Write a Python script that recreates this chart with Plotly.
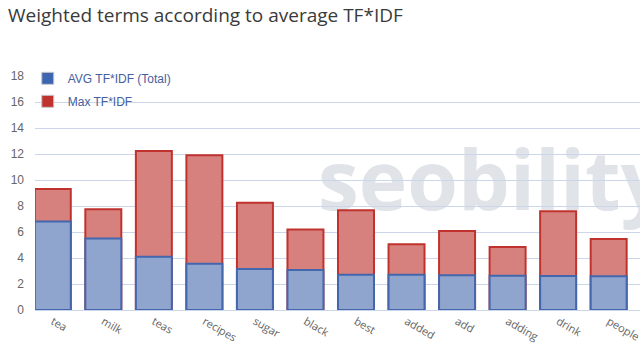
import plotly.graph_objects as go

categories = ["tea", "milk", "teas", "recipes", "sugar", "black", "best",
              "added", "add", "adding", "drink", "people"]
avg_tfidf = [6.8, 5.5, 4.1, 3.55, 3.15, 3.08, 2.72, 2.72, 2.67, 2.64, 2.62, 2.59]
max_tfidf = [9.3, 7.75, 12.23, 11.9, 8.25, 6.2, 7.67, 5.05, 6.08, 4.85, 7.59, 5.46]
y_ticks = [0, 2, 4, 6, 8, 10, 12, 14, 16, 18]

BLUE_LINE = "#4466ad"
BLUE_FILL = "#8fa5cd"
RED_LINE = "#c0322d"
RED_FILL = "#d7817e"
GRID = "#ccd6eb"

fig = go.Figure()

fig.add_trace(go.Bar(
    x=categories, y=max_tfidf, name="Max TF*IDF", showlegend=False,
    width=0.712, marker=dict(color=RED_FILL, line=dict(color=RED_LINE, width=2)),
))
fig.add_trace(go.Bar(
    x=categories, y=avg_tfidf, name="AVG TF*IDF (Total)", showlegend=False,
    width=0.712, marker=dict(color=BLUE_FILL, line=dict(color=BLUE_LINE, width=2)),
))
# legend entries
fig.add_trace(go.Bar(
    x=[None], y=[None], name="AVG TF*IDF (Total)", legendgroup="a",
    marker=dict(color="#3e65b0", line=dict(color="#c8c8c8", width=1)),
))
fig.add_trace(go.Bar(
    x=[None], y=[None], name="Max TF*IDF", legendgroup="b",
    marker=dict(color="#c0322d", line=dict(color="#c8c8c8", width=1)),
))

fig.update_layout(
    width=640, height=343,
    margin=dict(l=35, r=0, t=76, b=33),
    paper_bgcolor="white", plot_bgcolor="white",
    barmode="overlay",
    title=dict(
        text="Weighted terms according to average TF*IDF",
        font=dict(family="Open Sans", size=19, color="#3a3a3a"),
        xref="container", x=0.0125, xanchor="left",
        yref="container", y=0.975, yanchor="top",
    ),
    legend=dict(
        x=-0.012, y=1.052, xanchor="left", yanchor="top",
        bgcolor="rgba(0,0,0,0)", traceorder="grouped", tracegroupgap=4,
        font=dict(family="Liberation Sans", size=12, color="#46609e"),
    ),
    xaxis=dict(
        type="category", range=[-0.352, 11.62], automargin=False,
        tickangle=30, showgrid=False,
        showline=True, linecolor=GRID, linewidth=1,
        tickfont=dict(family="Open Sans", size=11, color="#666666"),
    ),
    yaxis=dict(
        range=[0, 18], tickvals=y_ticks, automargin=False,
        showgrid=True, gridcolor=GRID, gridwidth=1,
        zeroline=False, showline=False,
        ticklabelstandoff=10,
        tickfont=dict(family="Liberation Sans", size=12, color="#666666"),
    ),
    shapes=[dict(
        type="rect", xref="paper", yref="paper",
        x0=0.463, x1=1.3, y0=0.49, y1=0.586,
        line=dict(width=0), fillcolor="rgba(0,0,0,0)", layer="below",
        label=dict(
            text="seobility", textposition="middle left",
            padding=0,
            font=dict(family="Open Sans", size=82, weight=700,
                      color="#e0e3e7"),
        ),
    )],
)

fig.write_html("out.html")
